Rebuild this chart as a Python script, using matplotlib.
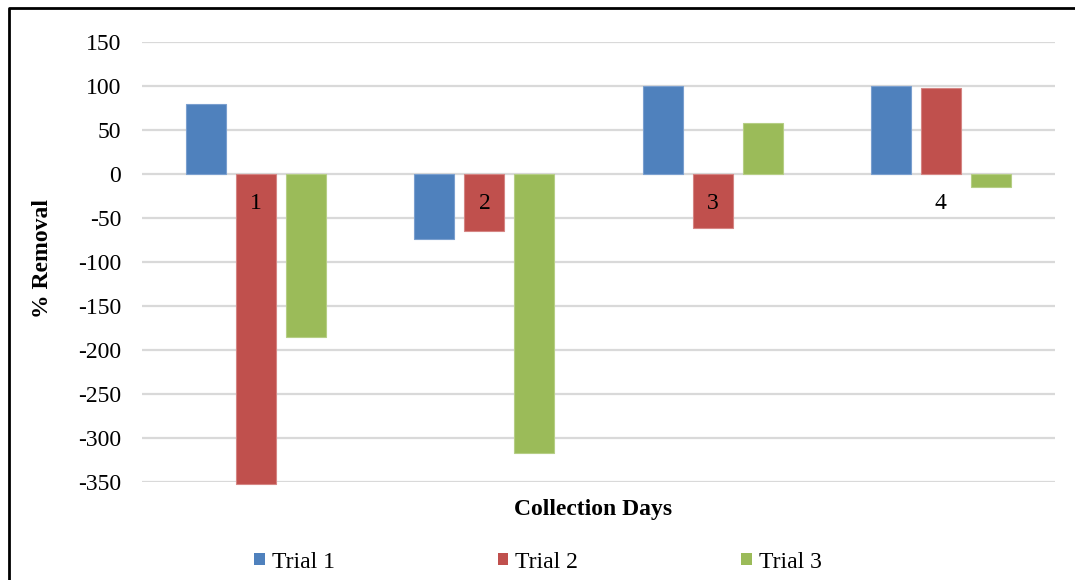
import matplotlib
matplotlib.use("Agg")
import matplotlib.pyplot as plt
import numpy as np
from matplotlib.lines import Line2D
from matplotlib.patches import Patch

plt.rcParams['font.family'] = ['Liberation Serif', 'DejaVu Serif']

days = ["1", "2", "3", "4"]
series_names = ["Trial 1", "Trial 2", "Trial 3"]
trial1 = [80, -74, 100, 100]
trial2 = [-352, -65, -61, 98]
trial3 = [-185, -317, 58, -15]
colors = ["#4F81BD", "#C0504D", "#9BBB59"]
edge_colors = ["#7A9FCF", "#D58583", "#B6CE85"]
yticks = [150, 100, 50, 0, -50, -100, -150, -200, -250, -300, -350]

W, H = 1075, 580
fig = plt.figure(figsize=(W / 100, H / 100), dpi=100)
ax = fig.add_axes([142 / W, 1 - 482 / H, (1055 - 142) / W, (482 - 42.3) / H])

x = np.arange(len(days))
step = 50 / 228.25
width = 40 / 228.25
for k, vals in enumerate([trial1, trial2, trial3]):
    ax.bar(x + (k - 1) * step, vals, width=width, color=colors[k],
           edgecolor=edge_colors[k], linewidth=0.8, zorder=3, clip_on=False)

ax.set_xlim(-0.5, len(days) - 0.5)
ax.set_ylim(-350, 150)
ax.set_yticks(yticks)
ax.set_yticklabels([str(v) for v in yticks])
ax.set_xticks([])
ax.tick_params(axis='y', length=0, pad=15, labelsize=17)
ax.grid(axis='y', color='#D9D9D9', linewidth=1.6, zorder=0)
for s in ax.spines.values():
    s.set_visible(False)

# category labels sit just under the zero line
for i, d in enumerate(days):
    ax.annotate(d, (i, 0), xytext=(0, -29), textcoords='offset pixels',
                ha='center', va='center', fontsize=17, zorder=5)

fig.text(42 / W, 1 - 258 / H, "% Removal", rotation=90, ha='center',
         va='center', fontsize=17, fontweight='bold')
fig.text(593 / W, 1 - 510 / H, "Collection Days", ha='center',
         va='center', fontsize=17, fontweight='bold')

handles = [Patch(facecolor=c, edgecolor='none') for c in colors]
fig.legend(handles, series_names, loc='center', bbox_to_anchor=(538 / W, 1 - 562 / H),
           ncol=3, frameon=False, fontsize=17, handlelength=0.45, handleheight=0.45,
           handletextpad=0.3, columnspacing=6.9, borderpad=0)

# outer frame (left and top edges)
fig.add_artist(Line2D([8.5 / W, 8.5 / W, 1.0], [0.0, 1 - 7.5 / H, 1 - 7.5 / H],
                      color='black', linewidth=2, transform=fig.transFigure))

fig.savefig("out.png", dpi=100)
